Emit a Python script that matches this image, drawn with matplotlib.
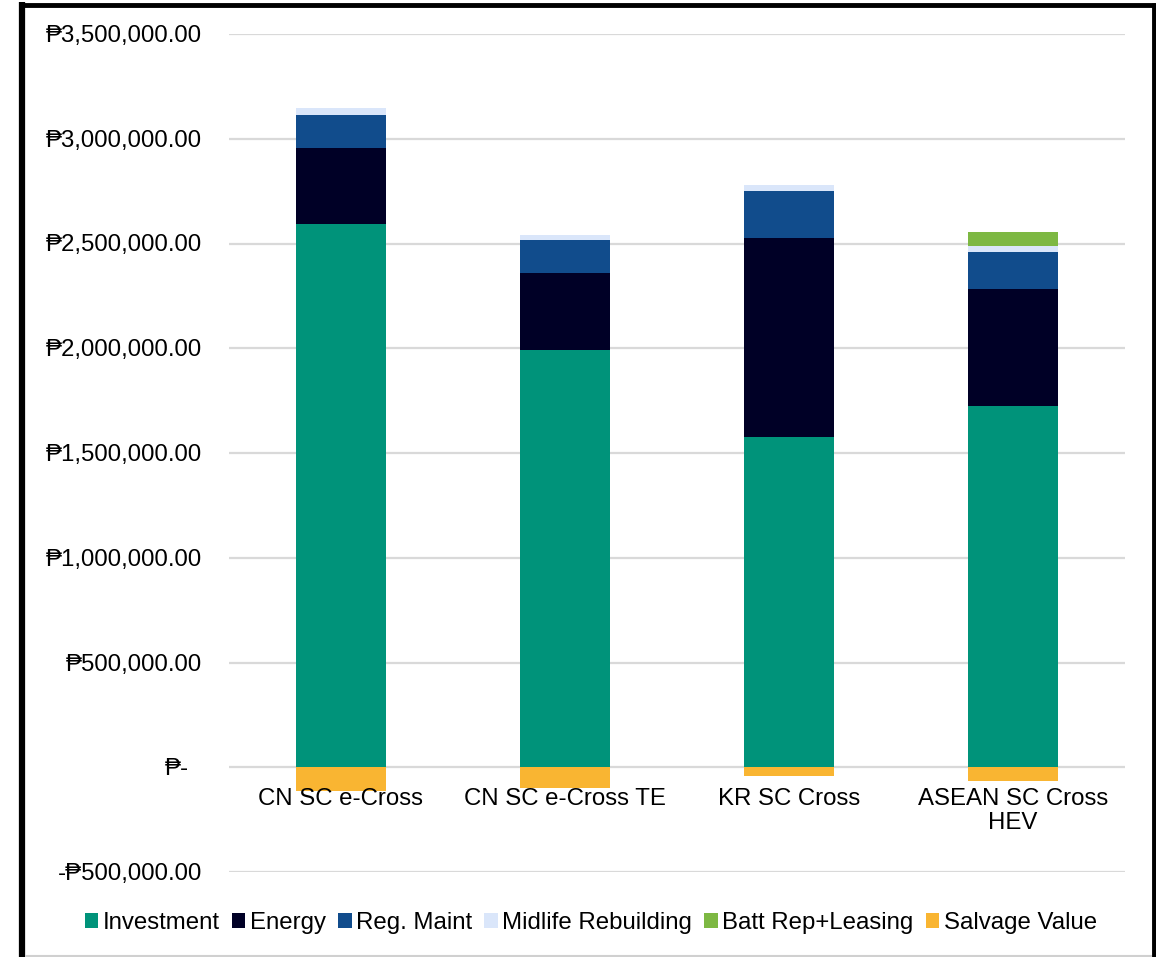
import matplotlib
matplotlib.use("Agg")
import matplotlib.pyplot as plt
from matplotlib.lines import Line2D
import numpy as np

plt.rcParams['font.family'] = ['Liberation Sans', 'DejaVu Sans']

categories = ["CN SC e-Cross", "CN SC e-Cross TE", "KR SC Cross", "ASEAN SC Cross\nHEV"]
investment = [2593000, 1994000, 1576000, 1724000]
energy = [364000, 366000, 948000, 557000]
reg_maint = [156000, 156000, 226000, 177000]
midlife = [32000, 24000, 29000, 30000]
batt_rep = [0, 0, 0, 67000]
salvage = [-113000, -97000, -41000, -64000]

series_names = ["Investment", "Energy", "Reg. Maint", "Midlife Rebuilding",
                "Batt Rep+Leasing", "Salvage Value"]
colors = ["#00937A", "#000026", "#114C8C", "#DAE6FA", "#7DB843", "#F9B532"]

y_ticks = [-500000, 0, 500000, 1000000, 1500000, 2000000, 2500000, 3000000, 3500000]

FS = 17.3


def peso(v):
    if v == 0:
        return "\u20b1-"
    s = "\u20b1{:,.2f}".format(abs(v))
    return "-" + s if v < 0 else s


W, H = 1156, 957
fig = plt.figure(figsize=(W / 100, H / 100), dpi=100)
ax = fig.add_axes([229 / W, 1 - 872 / H, (1125 - 229) / W, (872 - 34) / H])

x = np.arange(len(categories))
width = 0.40
bottom = np.zeros(len(categories))
positive = [investment, energy, reg_maint, midlife, batt_rep]
handles = []
for vals, name, col in zip(positive, series_names[:5], colors[:5]):
    vals = np.array(vals, dtype=float)
    b = ax.bar(x, vals, width, bottom=bottom, color=col, label=name, zorder=3)
    handles.append(b)
    bottom += vals
b = ax.bar(x, salvage, width, color=colors[5], label=series_names[5], zorder=3)
handles.append(b)

ax.set_xlim(-0.5, len(categories) - 0.5)
ax.set_ylim(-500000, 3500000)
ax.set_yticks(y_ticks)
ax.set_yticklabels([])
ax.tick_params(axis='both', length=0)
ax.set_xticks([])
for yt in y_ticks:
    ax.axhline(yt, color="#D9D9D9", lw=1.6, zorder=1)
    xoff = -27 if yt != 0 else -40
    ax.annotate(peso(yt), xy=(0, yt), xycoords=('axes fraction', 'data'),
                xytext=(xoff, -2), textcoords='offset pixels',
                ha='right', va='center', fontsize=FS, color="#000000")

for xi, cat in zip(x, categories):
    ax.annotate(cat, xy=(xi, 0), xycoords='data', xytext=(0, -21),
                textcoords='offset pixels', ha='center', va='top',
                fontsize=FS, linespacing=1.12, color="#000000")

for s in ax.spines.values():
    s.set_visible(False)

fig.legend(handles=handles, labels=series_names, loc='center',
           bbox_to_anchor=(591 / W, 1 - 923 / H), ncol=6, frameon=False,
           fontsize=FS, handlelength=0.55, handleheight=0.55,
           handletextpad=0.2, columnspacing=0.5, borderaxespad=0)

# frame around the figure: heavy black on left, top and right, thin grey below
def fline(xs, ys, **kw):
    fig.add_artist(Line2D([v / W for v in xs], [1 - v / H for v in ys],
                          transform=fig.transFigure, zorder=10, **kw))

fline([22, 22], [2, 957], color="#000000", lw=4.5, solid_capstyle='butt')
fline([19, 1156], [5, 5], color="#000000", lw=3.5, solid_capstyle='butt')
fline([1154, 1154], [3, 957], color="#000000", lw=3.5, solid_capstyle='butt')
fline([25, 1152], [956, 956], color="#D0D0D0", lw=1.5, solid_capstyle='butt')

fig.savefig("out.png", dpi=100)
